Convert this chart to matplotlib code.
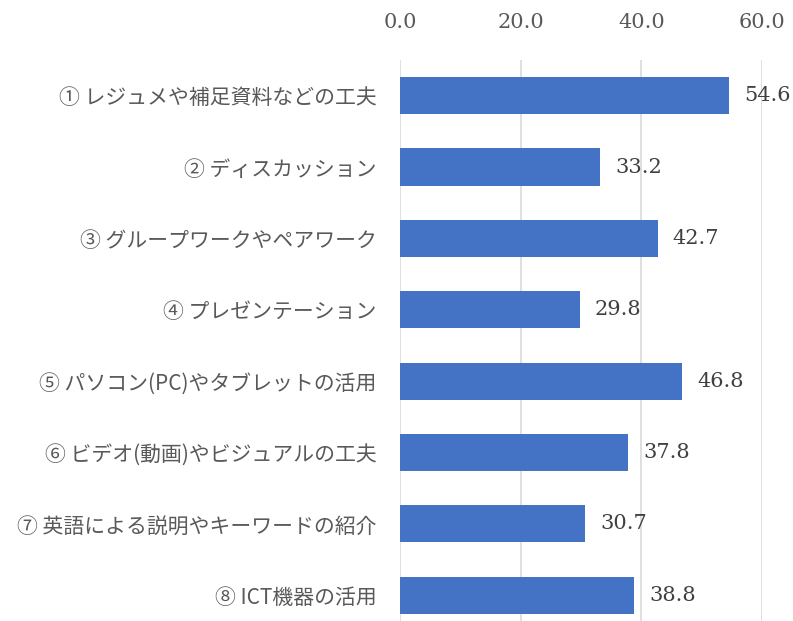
import matplotlib
matplotlib.use("Agg")
import matplotlib.pyplot as plt

categories = [
    "① レジュメや補足資料などの工夫",
    "② ディスカッション",
    "③ グループワークやペアワーク",
    "④ プレゼンテーション",
    "⑤ パソコン(PC)やタブレットの活用",
    "⑥ ビデオ(動画)やビジュアルの工夫",
    "⑦ 英語による説明やキーワードの紹介",
    "⑧ ICT機器の活用",
]
values = [54.6, 33.2, 42.7, 29.8, 46.8, 37.8, 30.7, 38.8]
x_ticks = [0.0, 20.0, 40.0, 60.0]


def main():
    plt.rcParams['font.family'] = ['Noto Sans CJK JP', 'DejaVu Sans']

    fig = plt.figure(figsize=(7.93, 6.21), dpi=100)
    ax = fig.add_axes([0.5044, -0.0161, 0.4565, 0.9195])

    ypos = list(range(len(categories)))
    ax.barh(ypos, values, height=0.52, color="#4472C4", zorder=2)

    ax.set_xlim(0, 60)
    ax.set_ylim(len(categories) - 0.5, -0.5)

    # axis labels on top, serif numbers
    ax.xaxis.tick_top()
    ax.set_xticks(x_ticks)
    ax.set_xticklabels([f"{t:.1f}" for t in x_ticks], family="DejaVu Serif",
                       fontsize=15, color="#595959")
    ax.tick_params(axis="x", length=0, pad=20)

    ax.set_yticks(ypos)
    ax.set_yticklabels(categories, fontsize=15, color="#595959")
    ax.tick_params(axis="y", length=0, pad=17)

    ax.grid(axis="x", color="#D9D9D9", linewidth=1.2, zorder=0)
    for s in ax.spines.values():
        s.set_visible(False)

    for y, v in zip(ypos, values):
        ax.text(v + 2.5, y, f"{v:.1f}", va="center", ha="left",
                family="DejaVu Serif", fontsize=15, color="#404040")

    fig.savefig("out.png", dpi=100)


if __name__ == '__main__':
    main()
